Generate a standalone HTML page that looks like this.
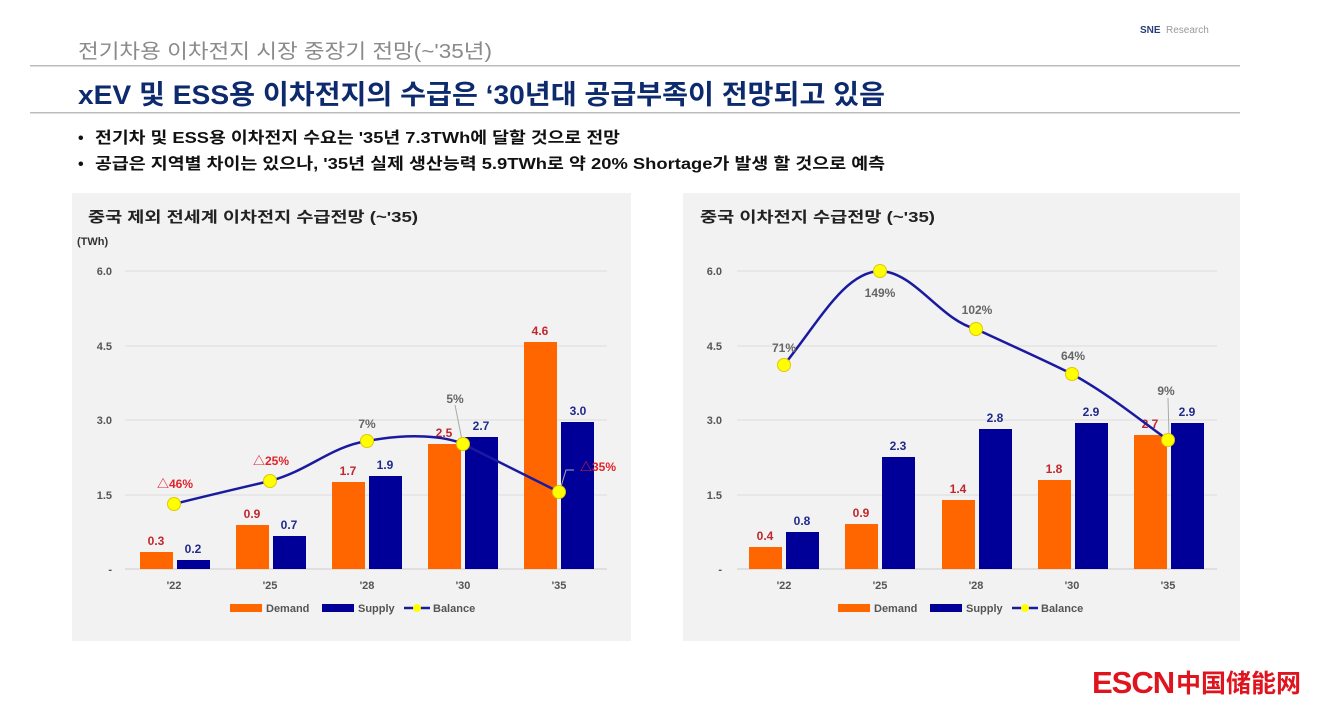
<!DOCTYPE html>
<html><head><meta charset="utf-8">
<style>
html,body{margin:0;padding:0;background:#fff;}
body{width:1327px;height:711px;overflow:hidden;}
svg text{font-family:"Liberation Sans","Noto Sans CJK KR",sans-serif;}
</style></head><body>
<svg width="1327" height="711" viewBox="0 0 1327 711" xmlns="http://www.w3.org/2000/svg">
<rect width="1327" height="711" fill="#fff"/>
<!-- header -->
<text x="1140" y="33" font-size="10" font-weight="bold" fill="#2a3f7a">SNE</text>
<text x="1166" y="33" font-size="10" fill="#999">Research</text>
<text x="78" y="58" font-size="20" fill="#8a8a8a" textLength="414" lengthAdjust="spacingAndGlyphs">전기차용 이차전지 시장 중장기 전망(~'35년)</text>
<rect x="30" y="65" width="1210" height="1.5" fill="#bdbdbd"/>
<text x="78" y="104" font-size="27" font-weight="bold" fill="#0d2a6e" textLength="807" lengthAdjust="spacingAndGlyphs">xEV 및 ESS용 이차전지의 수급은 ‘30년대 공급부족이 전망되고 있음</text>
<rect x="30" y="112" width="1210" height="1.5" fill="#bdbdbd"/>
<text x="78" y="143" font-size="16" font-weight="bold" fill="#111">•</text>
<text x="95" y="143" font-size="16" font-weight="bold" fill="#111" textLength="525" lengthAdjust="spacingAndGlyphs">전기차 및 ESS용 이차전지 수요는 '35년 7.3TWh에 달할 것으로 전망</text>
<text x="78" y="169" font-size="16" font-weight="bold" fill="#111">•</text>
<text x="95" y="169" font-size="16" font-weight="bold" fill="#111" textLength="790" lengthAdjust="spacingAndGlyphs">공급은 지역별 차이는 있으나, '35년 실제 생산능력 5.9TWh로 약 20% Shortage가 발생 할 것으로 예측</text>

<!-- LEFT PANEL -->
<rect x="72" y="193" width="559" height="448" fill="#f2f2f2"/>
<text x="88" y="222" font-size="15" font-weight="bold" fill="#222" textLength="330" lengthAdjust="spacingAndGlyphs">중국 제외 전세계 이차전지 수급전망 (~'35)</text>
<text x="77" y="245" font-size="11" font-weight="bold" fill="#333">(TWh)</text>
<g stroke="#dcdcdc" stroke-width="1">
<line x1="125" y1="271" x2="607" y2="271"/><line x1="125" y1="346" x2="607" y2="346"/>
<line x1="125" y1="420" x2="607" y2="420"/><line x1="125" y1="495" x2="607" y2="495"/>
<line x1="125" y1="569" x2="607" y2="569" stroke="#ccc"/></g>
<g font-size="11" font-weight="bold" fill="#555" text-anchor="end">
<text x="112" y="275">6.0</text><text x="112" y="350">4.5</text><text x="112" y="424">3.0</text><text x="112" y="499">1.5</text><text x="112" y="573">-</text></g>
<g fill="#ff6600">
<rect x="140" y="552" width="33" height="17"/><rect x="236" y="525" width="33" height="44"/>
<rect x="332" y="482" width="33" height="87"/><rect x="428" y="444" width="33" height="125"/>
<rect x="524" y="342" width="33" height="227"/></g>
<g fill="#000099">
<rect x="177" y="560" width="33" height="9"/><rect x="273" y="536" width="33" height="33"/>
<rect x="369" y="476" width="33" height="93"/><rect x="465" y="437" width="33" height="132"/>
<rect x="561" y="422" width="33" height="147"/></g>
<g font-size="12" font-weight="bold" text-anchor="middle">
<text x="156" y="545" fill="#c0272d">0.3</text><text x="193" y="553" fill="#1f2a8a">0.2</text>
<text x="252" y="518" fill="#c0272d">0.9</text><text x="289" y="529" fill="#1f2a8a">0.7</text>
<text x="348" y="475" fill="#c0272d">1.7</text><text x="385" y="469" fill="#1f2a8a">1.9</text>
<text x="444" y="437" fill="#c0272d">2.5</text><text x="481" y="430" fill="#1f2a8a">2.7</text>
<text x="540" y="335" fill="#c0272d">4.6</text><text x="578" y="415" fill="#1f2a8a">3.0</text></g>
<path d="M174,504 C210,495 240,488 270,481 C310,470 330,447 367,441 C410,433 445,436 463,444 C495,460 525,475 559,492" fill="none" stroke="#1a1aa0" stroke-width="2.5"/>
<line x1="455" y1="405" x2="462" y2="440" stroke="#aaa" stroke-width="1"/>
<polyline points="560,490 566,470 574,470" fill="none" stroke="#aaa" stroke-width="1"/>
<g fill="#ffff00" stroke="#e0c800" stroke-width="1">
<circle cx="174" cy="504" r="6.5"/><circle cx="270" cy="481" r="6.5"/><circle cx="367" cy="441" r="6.5"/>
<circle cx="463" cy="444" r="6.5"/><circle cx="559" cy="492" r="6.5"/></g>
<g font-size="12" font-weight="bold" text-anchor="middle">
<text x="175" y="488" fill="#e0242b">△46%</text><text x="271" y="465" fill="#e0242b">△25%</text>
<text x="367" y="428" fill="#666">7%</text><text x="455" y="403" fill="#666">5%</text>
<text x="598" y="471" fill="#e0242b">△35%</text></g>
<g font-size="11" font-weight="bold" text-anchor="middle" fill="#555">
<text x="174" y="589">'22</text><text x="270" y="589">'25</text><text x="367" y="589">'28</text><text x="463" y="589">'30</text><text x="559" y="589">'35</text></g>
<rect x="230" y="604" width="32" height="8" fill="#ff6600"/>
<text x="266" y="612" font-size="11" font-weight="bold" fill="#555">Demand</text>
<rect x="322" y="604" width="32" height="8" fill="#000099"/>
<text x="358" y="612" font-size="11" font-weight="bold" fill="#555">Supply</text>
<line x1="404" y1="608" x2="430" y2="608" stroke="#1a1aa0" stroke-width="2.5"/>
<circle cx="417" cy="608" r="4" fill="#ffff00"/>
<text x="433" y="612" font-size="11" font-weight="bold" fill="#555">Balance</text>

<!-- RIGHT PANEL -->
<rect x="683" y="193" width="557" height="448" fill="#f2f2f2"/>
<text x="700" y="222" font-size="15" font-weight="bold" fill="#222" textLength="235" lengthAdjust="spacingAndGlyphs">중국 이차전지 수급전망 (~'35)</text>
<g stroke="#dcdcdc" stroke-width="1">
<line x1="737" y1="271" x2="1217" y2="271"/><line x1="737" y1="346" x2="1217" y2="346"/>
<line x1="737" y1="420" x2="1217" y2="420"/><line x1="737" y1="495" x2="1217" y2="495"/>
<line x1="737" y1="569" x2="1217" y2="569" stroke="#ccc"/></g>
<g font-size="11" font-weight="bold" fill="#555" text-anchor="end">
<text x="722" y="275">6.0</text><text x="722" y="350">4.5</text><text x="722" y="424">3.0</text><text x="722" y="499">1.5</text><text x="722" y="573">-</text></g>
<g fill="#ff6600">
<rect x="749" y="547" width="33" height="22"/><rect x="845" y="524" width="33" height="45"/>
<rect x="942" y="500" width="33" height="69"/><rect x="1038" y="480" width="33" height="89"/>
<rect x="1134" y="435" width="33" height="134"/></g>
<g fill="#000099">
<rect x="786" y="532" width="33" height="37"/><rect x="882" y="457" width="33" height="112"/>
<rect x="979" y="429" width="33" height="140"/><rect x="1075" y="423" width="33" height="146"/>
<rect x="1171" y="423" width="33" height="146"/></g>
<g font-size="12" font-weight="bold" text-anchor="middle">
<text x="765" y="540" fill="#c0272d">0.4</text><text x="802" y="525" fill="#1f2a8a">0.8</text>
<text x="861" y="517" fill="#c0272d">0.9</text><text x="898" y="450" fill="#1f2a8a">2.3</text>
<text x="958" y="493" fill="#c0272d">1.4</text><text x="995" y="422" fill="#1f2a8a">2.8</text>
<text x="1054" y="473" fill="#c0272d">1.8</text><text x="1091" y="416" fill="#1f2a8a">2.9</text>
<text x="1150" y="428" fill="#c0272d">2.7</text><text x="1187" y="416" fill="#1f2a8a">2.9</text></g>
<path d="M784,365 C820,320 845,272 880,271 C915,272 940,320 976,329 C1010,345 1040,358 1072,374 C1110,395 1140,420 1168,440" fill="none" stroke="#1a1aa0" stroke-width="2.5"/>
<line x1="1168" y1="398" x2="1169" y2="436" stroke="#aaa" stroke-width="1"/>
<g fill="#ffff00" stroke="#e0c800" stroke-width="1">
<circle cx="784" cy="365" r="6.5"/><circle cx="880" cy="271" r="6.5"/><circle cx="976" cy="329" r="6.5"/>
<circle cx="1072" cy="374" r="6.5"/><circle cx="1168" cy="440" r="6.5"/></g>
<g font-size="12" font-weight="bold" text-anchor="middle" fill="#666">
<text x="784" y="352">71%</text><text x="880" y="297">149%</text><text x="977" y="314">102%</text>
<text x="1073" y="360">64%</text><text x="1166" y="395">9%</text></g>
<g font-size="11" font-weight="bold" text-anchor="middle" fill="#555">
<text x="784" y="589">'22</text><text x="880" y="589">'25</text><text x="976" y="589">'28</text><text x="1072" y="589">'30</text><text x="1168" y="589">'35</text></g>
<rect x="838" y="604" width="32" height="8" fill="#ff6600"/>
<text x="874" y="612" font-size="11" font-weight="bold" fill="#555">Demand</text>
<rect x="930" y="604" width="32" height="8" fill="#000099"/>
<text x="966" y="612" font-size="11" font-weight="bold" fill="#555">Supply</text>
<line x1="1012" y1="608" x2="1038" y2="608" stroke="#1a1aa0" stroke-width="2.5"/>
<circle cx="1025" cy="608" r="4" fill="#ffff00"/>
<text x="1041" y="612" font-size="11" font-weight="bold" fill="#555">Balance</text>

<!-- logo -->
<text x="1092" y="693" font-size="31" font-weight="bold" fill="#e0141e" letter-spacing="-1" style="font-family:'Liberation Sans',sans-serif">ESCN</text>
<text x="1176" y="692" font-size="25" font-weight="bold" fill="#e0141e" style="font-family:'Noto Sans CJK SC',sans-serif">中国储能网</text>
</svg>
</body></html>
